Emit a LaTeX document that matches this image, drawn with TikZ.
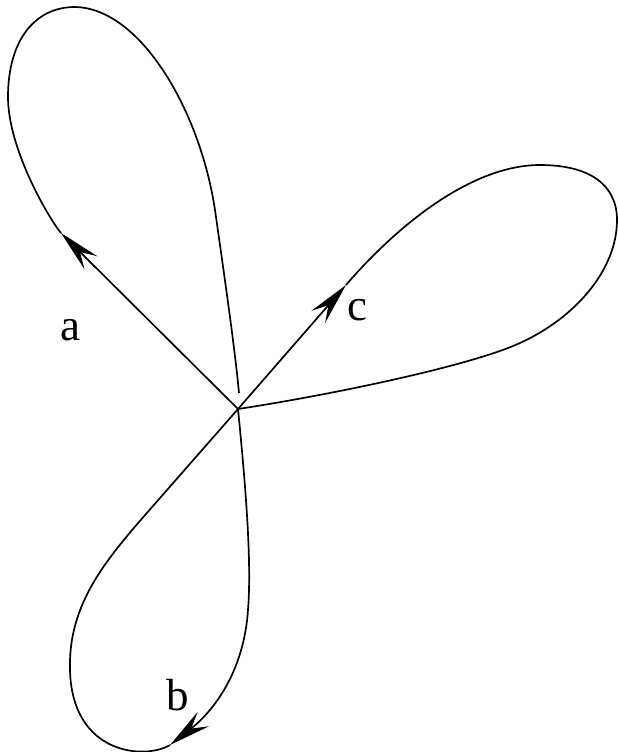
\documentclass[tikz,border=0pt]{standalone}
\usepackage{fontspec}
\setmainfont{Liberation Serif}
\usetikzlibrary{arrows.meta}

\begin{document}
\begin{tikzpicture}[
  x=0.025cm, y=-0.025cm,
  curve/.style={line width=1.2pt, line join=round},
  tip/.style={curve, -{Stealth[length=30pt, width=13pt, inset=11pt]}},
  lbl/.style={font=\fontsize{32}{36}\selectfont, inner sep=0pt},
]
\useasboundingbox (0,0) rectangle (618,752);

% ---- crossing point and arrow tips ----
\coordinate (o) at (238,409);
\coordinate (atip) at (61,233);
\coordinate (aend) at (239,393);
\coordinate (ctip) at (346,285);
\coordinate (btip) at (170,745);

% ---- loop a (upper left) ----
\draw[tip] (o) -- (atip);
\draw[curve] (atip) .. controls (50,220) and (8,150) .. (8,97)
  .. controls (8,40) and (35,7) .. (75,7)
  .. controls (140,8) and (200,110) .. (215,210)
  .. controls (225,280) and (235,350) .. (aend);

% ---- loop c (right) ----
\draw[tip] (o) -- (ctip);
\draw[curve] (ctip) .. controls (395,228) and (470,165) .. (540,165)
  .. controls (590,165) and (617,185) .. (617,220)
  .. controls (617,270) and (575,318) .. (520,343)
  .. controls (470,366) and (330,395) .. (o);

% ---- loop b (bottom) ----
\draw[tip] (o) .. controls (245,480) and (252,560) .. (248,610)
  .. controls (244,670) and (215,710) .. (btip);
\draw[curve] (btip) .. controls (145,760) and (72,755) .. (70,670)
  .. controls (68,600) and (110,555) .. (160,498) -- (o);

% ---- labels ----
\node[lbl] (la) at (70,330) {a};
\node[lbl] (lc) at (357,310) {c};
\node[lbl] (lb) at (178,695) {b};
\end{tikzpicture}
\end{document}
